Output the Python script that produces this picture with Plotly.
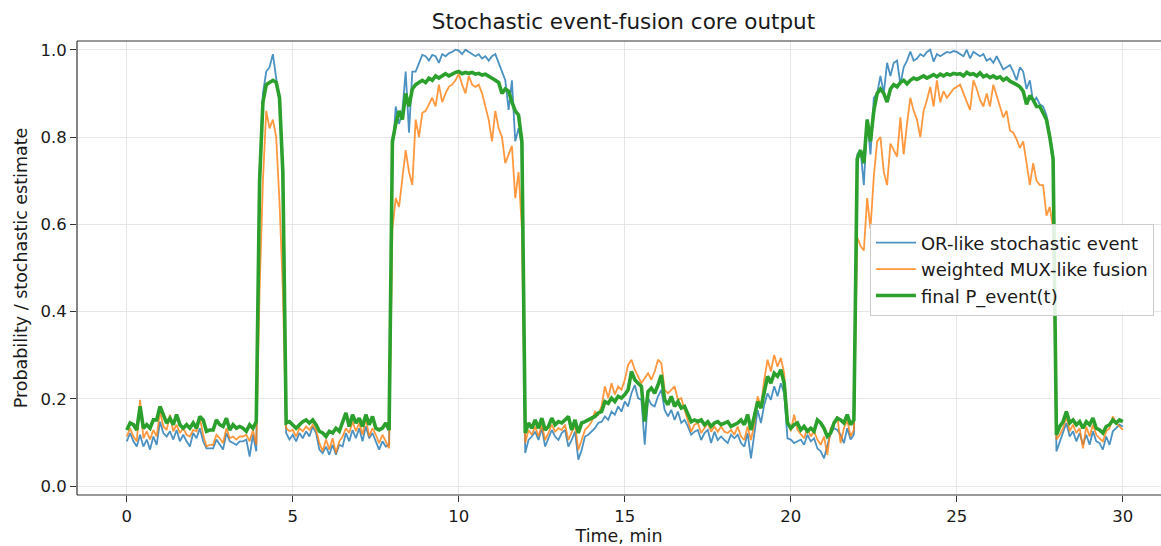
import numpy as np
import plotly.graph_objects as go

# time grid (minutes), 0.1 min step
time_min = np.round(np.arange(301) * 0.1, 1)

or_event = [
    0.103,0.122,0.103,0.091,0.118,0.091,0.107,0.084,0.114,0.095,
    0.148,0.122,0.114,0.126,0.107,0.129,0.103,0.118,0.103,0.091,
    0.122,0.110,0.133,0.103,0.087,0.087,0.087,0.107,0.095,0.084,
    0.122,0.103,0.099,0.095,0.103,0.103,0.107,0.068,0.118,0.080,
    0.72,0.90,0.95,0.96,0.99,0.94,0.88,0.70,0.122,0.107,
    0.118,0.103,0.122,0.110,0.126,0.114,0.137,0.122,0.084,0.076,
    0.091,0.072,0.095,0.072,0.095,0.091,0.122,0.103,0.129,0.110,
    0.133,0.103,0.137,0.110,0.122,0.103,0.084,0.103,0.091,0.095,
    0.76,0.87,0.83,0.86,0.95,0.81,0.95,0.95,0.97,0.988,
    0.985,0.975,0.988,0.985,0.97,0.99,0.985,0.992,0.995,1.0,
    0.998,0.99,1.0,0.995,0.99,0.985,0.99,0.98,0.985,0.975,
    0.985,0.99,0.97,0.95,0.93,0.862,0.93,0.79,0.82,0.78,
    0.076,0.106,0.114,0.125,0.106,0.133,0.091,0.110,0.129,0.114,
    0.106,0.122,0.129,0.091,0.106,0.125,0.061,0.083,0.114,0.118,
    0.125,0.133,0.145,0.148,0.160,0.152,0.171,0.164,0.183,0.171,
    0.194,0.183,0.213,0.232,0.202,0.198,0.095,0.202,0.187,0.183,
    0.206,0.221,0.175,0.160,0.175,0.152,0.171,0.145,0.152,0.137,
    0.118,0.125,0.129,0.106,0.122,0.129,0.099,0.125,0.106,0.114,
    0.106,0.099,0.118,0.110,0.118,0.099,0.091,0.122,0.064,0.122,
    0.175,0.145,0.187,0.213,0.198,0.229,0.206,0.236,0.213,0.110,
    0.107,0.099,0.103,0.107,0.095,0.118,0.103,0.110,0.087,0.080,
    0.064,0.095,0.122,0.133,0.129,0.118,0.099,0.133,0.107,0.118,
    0.76,0.77,0.69,0.84,0.76,0.89,0.90,0.94,0.90,0.97,
    0.94,0.97,0.975,0.92,0.96,0.975,0.996,0.975,0.98,0.99,
    0.985,0.995,1.0,0.973,0.99,0.985,0.99,0.995,0.993,0.997,
    0.995,0.99,0.985,1.0,0.98,0.995,0.99,0.985,0.99,0.975,
    0.98,0.97,0.985,0.97,0.955,0.96,0.965,0.95,0.93,0.96,
    0.95,0.91,0.93,0.88,0.89,0.875,0.87,0.85,0.80,0.76,
    0.080,0.103,0.126,0.145,0.114,0.126,0.103,0.122,0.095,0.118,
    0.095,0.126,0.103,0.099,0.084,0.114,0.095,0.126,0.133,0.141,
    0.137,
]

mux_fusion = [
    0.114,0.133,0.114,0.103,0.198,0.110,0.126,0.107,0.129,0.114,
    0.171,0.137,0.129,0.164,0.126,0.141,0.122,0.133,0.118,0.114,
    0.129,0.126,0.156,0.118,0.091,0.095,0.095,0.118,0.110,0.099,
    0.133,0.110,0.114,0.107,0.114,0.114,0.118,0.103,0.129,0.095,
    0.45,0.70,0.86,0.82,0.84,0.80,0.65,0.45,0.133,0.126,
    0.129,0.114,0.133,0.126,0.137,0.129,0.141,0.129,0.099,0.080,
    0.107,0.084,0.110,0.076,0.103,0.114,0.133,0.122,0.148,0.126,
    0.145,0.118,0.156,0.114,0.133,0.118,0.099,0.118,0.103,0.087,
    0.59,0.66,0.64,0.70,0.77,0.72,0.69,0.84,0.80,0.855,
    0.86,0.875,0.89,0.87,0.92,0.88,0.90,0.915,0.92,0.93,
    0.945,0.92,0.90,0.94,0.92,0.915,0.92,0.90,0.87,0.84,
    0.79,0.86,0.82,0.80,0.74,0.76,0.78,0.66,0.72,0.59,
    0.099,0.129,0.118,0.137,0.114,0.141,0.106,0.122,0.141,0.125,
    0.133,0.129,0.141,0.106,0.122,0.141,0.083,0.106,0.129,0.137,
    0.148,0.171,0.164,0.183,0.229,0.202,0.236,0.210,0.229,0.221,
    0.244,0.278,0.290,0.267,0.252,0.236,0.248,0.259,0.244,0.263,
    0.290,0.282,0.221,0.213,0.221,0.229,0.198,0.202,0.175,0.152,
    0.125,0.141,0.145,0.122,0.133,0.145,0.125,0.137,0.125,0.137,
    0.125,0.122,0.129,0.118,0.137,0.114,0.106,0.137,0.106,0.141,
    0.206,0.183,0.244,0.290,0.263,0.301,0.274,0.294,0.259,0.152,
    0.126,0.164,0.129,0.118,0.110,0.133,0.114,0.126,0.107,0.095,
    0.114,0.072,0.133,0.141,0.160,0.099,0.133,0.152,0.114,0.129,
    0.57,0.55,0.54,0.66,0.59,0.71,0.79,0.80,0.72,0.69,
    0.785,0.77,0.755,0.845,0.76,0.83,0.89,0.86,0.84,0.80,
    0.86,0.885,0.915,0.87,0.93,0.88,0.905,0.89,0.90,0.91,
    0.915,0.92,0.90,0.88,0.862,0.93,0.91,0.885,0.87,0.90,
    0.87,0.92,0.895,0.87,0.845,0.86,0.815,0.81,0.795,0.775,
    0.79,0.74,0.69,0.74,0.70,0.69,0.69,0.62,0.64,0.59,
    0.107,0.118,0.133,0.160,0.126,0.141,0.122,0.133,0.087,0.137,
    0.114,0.141,0.118,0.110,0.103,0.126,0.133,0.160,0.145,0.137,
    0.129,
]

p_event = [
    0.129,0.145,0.141,0.129,0.183,0.133,0.141,0.133,0.152,0.152,
    0.183,0.164,0.145,0.156,0.141,0.164,0.141,0.133,0.141,0.133,
    0.145,0.133,0.160,0.152,0.126,0.129,0.129,0.152,0.141,0.137,
    0.156,0.129,0.141,0.133,0.137,0.133,0.126,0.141,0.133,0.148,
    0.70,0.88,0.92,0.925,0.93,0.925,0.89,0.72,0.145,0.148,
    0.141,0.133,0.141,0.148,0.152,0.145,0.152,0.141,0.126,0.122,
    0.114,0.126,0.122,0.133,0.126,0.145,0.168,0.137,0.164,0.145,
    0.156,0.137,0.164,0.141,0.160,0.133,0.129,0.133,0.145,0.129,
    0.79,0.83,0.86,0.84,0.90,0.87,0.91,0.92,0.925,0.93,
    0.925,0.935,0.93,0.94,0.935,0.94,0.945,0.94,0.945,0.948,
    0.95,0.945,0.948,0.946,0.948,0.944,0.946,0.942,0.944,0.94,
    0.935,0.93,0.925,0.90,0.91,0.905,0.88,0.86,0.85,0.79,
    0.122,0.145,0.133,0.152,0.133,0.156,0.129,0.137,0.156,0.141,
    0.148,0.145,0.152,0.160,0.129,0.152,0.122,0.145,0.148,0.152,
    0.156,0.160,0.168,0.171,0.194,0.190,0.202,0.194,0.206,0.202,
    0.210,0.221,0.263,0.244,0.236,0.229,0.148,0.217,0.225,0.213,
    0.232,0.255,0.198,0.187,0.206,0.183,0.194,0.179,0.183,0.164,
    0.148,0.152,0.148,0.152,0.141,0.148,0.137,0.145,0.148,0.141,
    0.145,0.148,0.137,0.141,0.145,0.152,0.141,0.164,0.129,0.160,
    0.194,0.179,0.217,0.252,0.236,0.259,0.252,0.267,0.236,0.145,
    0.133,0.141,0.145,0.129,0.137,0.126,0.133,0.126,0.152,0.145,
    0.133,0.114,0.122,0.145,0.156,0.152,0.145,0.164,0.141,0.152,
    0.75,0.77,0.74,0.84,0.79,0.86,0.90,0.91,0.90,0.88,
    0.91,0.92,0.915,0.925,0.93,0.922,0.93,0.935,0.932,0.936,
    0.94,0.935,0.94,0.943,0.938,0.944,0.94,0.945,0.942,0.946,
    0.944,0.945,0.94,0.948,0.943,0.945,0.94,0.947,0.938,0.942,
    0.936,0.94,0.935,0.938,0.93,0.935,0.928,0.925,0.92,0.915,
    0.905,0.875,0.895,0.885,0.87,0.87,0.855,0.84,0.80,0.75,
    0.118,0.137,0.148,0.171,0.145,0.152,0.141,0.148,0.133,0.148,
    0.141,0.156,0.133,0.129,0.122,0.137,0.141,0.152,0.145,0.152,
    0.148,
]

x_ticks = [0, 5, 10, 15, 20, 25, 30]
y_ticks = [0.0, 0.2, 0.4, 0.6, 0.8, 1.0]
y_tick_labels = ["0.0", "0.2", "0.4", "0.6", "0.8", "1.0"]

FONT = "DejaVu Sans"
TXT = "#1a1a1a"
SPINE = "#333333"

fig = go.Figure()
fig.add_trace(go.Scatter(x=time_min, y=or_event, mode="lines",
                         name="OR-like stochastic event", legendgroup="a",
                         line=dict(color="#1f77b4", width=1.8), opacity=0.8))
fig.add_trace(go.Scatter(x=time_min, y=mux_fusion, mode="lines",
                         name="weighted MUX-like fusion", legendgroup="b",
                         line=dict(color="#ff7f0e", width=1.8), opacity=0.8))
fig.add_trace(go.Scatter(x=time_min, y=p_event, mode="lines",
                         name="final P_event(t)", legendgroup="c",
                         line=dict(color="#2ca02c", width=3.6)))

axis_common = dict(
    showgrid=True, gridcolor="#e6e6e6", gridwidth=1, zeroline=False,
    showline=False,
    ticks="outside", ticklen=6, tickwidth=1.2, tickcolor=SPINE,
    tickfont=dict(family=FONT, size=16.5, color=TXT),
)

# spines (left, bottom, top); the right spine lies outside the cropped view
spine_style = dict(type="line", xref="paper", yref="paper",
                   line=dict(color=SPINE, width=1.2), layer="above")
fig.add_shape(x0=0, x1=0, y0=0, y1=1, **spine_style)
fig.add_shape(x0=0, x1=1, y0=0, y1=0, **spine_style)
fig.add_shape(x0=0, x1=1, y0=1, y1=1, **spine_style)

fig.update_layout(
    width=1161, height=546,
    margin=dict(l=77, r=0, t=41, b=51, pad=0),
    paper_bgcolor="white", plot_bgcolor="white",
    font=dict(family=FONT, color=TXT),
    title=dict(text="Stochastic event-fusion core output",
               font=dict(family=FONT, size=21.5, color=TXT),
               xref="container", x=0.537, xanchor="center",
               yref="container", y=0.96, yanchor="middle"),
    xaxis=dict(range=[-1.5, 31.15], tickvals=x_ticks,
               title=dict(text="Time, min", font=dict(family=FONT, size=17.5, color=TXT), standoff=6),
               **axis_common),
    yaxis=dict(range=[-0.02, 1.02], tickvals=y_ticks, ticktext=y_tick_labels,
               title=dict(text="Probability / stochastic estimate",
                          font=dict(family=FONT, size=17.5, color=TXT), standoff=8),
               **axis_common),
    legend=dict(x=0.7315, y=0.598, xanchor="left", yanchor="top",
                bgcolor="rgba(255,255,255,0.85)", bordercolor="#cccccc", borderwidth=1,
                font=dict(family=FONT, size=18, color=TXT), tracegroupgap=0,
                itemwidth=40),
    showlegend=True,
)

fig.write_html("out.html")
